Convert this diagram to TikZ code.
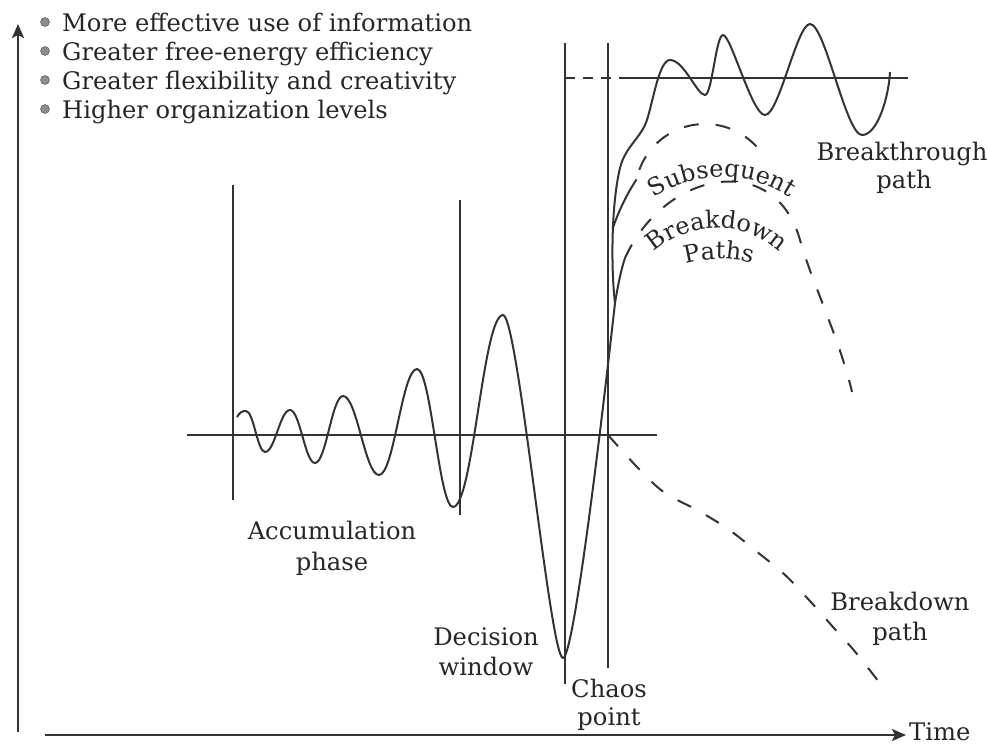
\documentclass[tikz,border=0pt]{standalone}
\usepackage{fontspec}
\setmainfont{DejaVu Serif}
\usetikzlibrary{arrows.meta,decorations.text,calc}
\newcommand\arcfnt{\fontsize{24}{24}\selectfont}
\begin{document}
\begin{tikzpicture}[x=1pt,y=-1pt,
  lbl/.style={font=\fontsize{24.2}{29}\selectfont, text=black!85, inner sep=0pt},
  curve/.style={line width=2pt, draw=black!80},
  dsh/.style={curve, dash pattern=on 15pt off 17pt},
  axis/.style={line width=2.4pt, draw=black!80},
  guide/.style={line width=1.8pt, draw=black!80},
  tip/.style={-{Stealth[length=14pt,width=12pt,inset=3pt]}},
  dot/.style={circle, fill=black!45, draw=black!70, inner sep=0pt, minimum size=9pt},
  arctext/.style={decorate, decoration={text along path, text align=center, text color=black!85}}]
\useasboundingbox (0,0) rectangle (987,744);
% axes
\coordinate (yb) at (18,732); \coordinate (yt) at (18,24);
\draw[axis,tip] (yb) -- (yt);
\coordinate (xl) at (45,735); \coordinate (xr) at (906,735);
\draw[axis,tip] (xl) -- (xr);
\node[lbl, anchor=base west] (time) at (909,740) {Time};
% bullet list
\foreach \i/\t/\yy in {1/More effective use of information/31,
                       2/Greater free-energy efficiency/60,
                       3/Greater flexibility and creativity/89,
                       4/Higher organization levels/118}{
  \node[dot] (d\i) at (45,\yy-9) {};
  \node[lbl, anchor=base west] (b\i) at (62,\yy) {\t};
}
% guide lines
\coordinate (g1t) at (233,185); \coordinate (g1b) at (233,500);
\coordinate (g2t) at (460,200); \coordinate (g2b) at (460,515);
\coordinate (g3t) at (565,43);  \coordinate (g3b) at (565,684);
\coordinate (g4t) at (608,43);  \coordinate (g4b) at (608,668);
\draw[guide] (g1t) -- (g1b);
\draw[guide] (g2t) -- (g2b);
\draw[guide] (g3t) -- (g3b);
\draw[guide] (g4t) -- (g4b);
\coordinate (bl) at (187,435); \coordinate (br) at (657,435);
\draw[guide] (bl) -- (br);
\coordinate (hl) at (565,78); \coordinate (hm) at (627,78); \coordinate (hr) at (908,78);
\draw[guide, dash pattern=on 10pt off 8pt] (hl) -- (hm);
\draw[guide] (hm) -- (hr);
% main oscillation
\draw[curve] (237,417) .. controls (240,412) and (242,411) .. (246,411)
  .. controls (253.6,411) and (257.4,452) .. (265,452)
  .. controls (275,452) and (280,410) .. (290,410)
  .. controls (300,410) and (305,463) .. (315,463)
  .. controls (326,463) and (332,396) .. (343,396)
  .. controls (357,396) and (365,475) .. (379,475)
  .. controls (394,475) and (402,369) .. (417,369)
  .. controls (431,369) and (439,507) .. (453,507)
  .. controls (473,507) and (483,315) .. (503,315)
  .. controls (518,315) and (550,658) .. (563,658)
  .. controls (572,658) and (594,490) .. (615,303) coordinate (f1);
% breakthrough path
\draw[curve] (f1) .. controls (611,270) and (611,205) .. coordinate[pos=0.56] (f2) (620,168)
  .. controls (625,148) and (638,140) .. (645,125)
  .. controls (652,110) and (658,60) .. (670,60)
  .. controls (684,60) and (697,95) .. (705,95)
  .. controls (712,95) and (716,35) .. (723,35)
  .. controls (731,35) and (752,115) .. (765,115)
  .. controls (779,115) and (797,24) .. (810,24)
  .. controls (825,24) and (846,135) .. (862,135)
  .. controls (878,135) and (889,95) .. (890,72);
% outer subsequent breakdown path
\coordinate (oc) at (705,194);
\coordinate (o1) at ($(oc)+(168:70pt)$);
\draw[curve] (f2) .. controls (618,212) and (628,192) .. (o1);
\draw[dsh, dash phase=22pt] (o1) arc[start angle=168, end angle=30, radius=70pt];
% inner subsequent breakdown path
\coordinate (i1) at (625,258);
\draw[curve] (f1) .. controls (618,285) and (621,270) .. (i1);
\draw[dsh] (i1) .. controls (665,170) and (775,150) .. (800,240)
  .. controls (811,280) and (840,340) .. (852,392);
% lower breakdown path
\coordinate (cp) at (608,435);
\draw[dsh] plot[smooth, tension=0.6] coordinates {(608,435) (639,469) (665,493) (697,510) (728,529) (756,551) (784,574) (809,600) (833,627) (857,654) (885,690)};
% arc texts
\path[arctext, decoration={text={|\arcfnt|Subsequent}}] ($(722,300)+(150:123pt)$) arc[start angle=150, end angle=30, radius=123pt];
\path[arctext, decoration={text={|\arcfnt|Breakdown}}] ($(717,322)+(150:94pt)$) arc[start angle=150, end angle=30, radius=94pt];
\path[arctext, decoration={text={|\arcfnt|Paths}}] ($(719,383)+(130:124pt)$) arc[start angle=130, end angle=50, radius=124pt];
% labels
\node[lbl, anchor=base] (acc1) at (332,539) {Accumulation};
\node[lbl, anchor=base] (acc2) at (332,570) {phase};
\node[lbl, anchor=base] (dec1) at (486,645) {Decision};
\node[lbl, anchor=base] (dec2) at (486,675) {window};
\node[lbl, anchor=base] (cha1) at (609,697) {Chaos};
\node[lbl, anchor=base] (cha2) at (609,725) {point};
\node[lbl, anchor=base] (bd1) at (900,610) {Breakdown};
\node[lbl, anchor=base] (bd2) at (900,640) {path};
\node[lbl, anchor=base] (bt1) at (902,160) {Breakthrough};
\node[lbl, anchor=base] (bt2) at (904,188) {path};
\end{tikzpicture}
\end{document}
